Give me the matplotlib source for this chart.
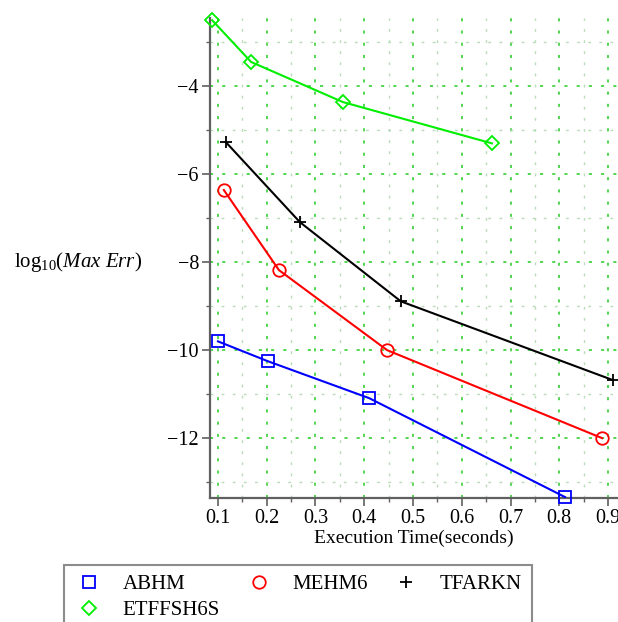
import matplotlib
matplotlib.use("Agg")
import matplotlib.pyplot as plt
from matplotlib.ticker import MultipleLocator

plt.rcParams['font.family'] = ['Liberation Serif', 'DejaVu Serif']
plt.rcParams['mathtext.fontset'] = 'custom'
plt.rcParams['mathtext.rm'] = 'Liberation Serif'
plt.rcParams['mathtext.it'] = 'Liberation Serif:italic'

# Data
abhm_x = [0.100, 0.202, 0.410, 0.812]
abhm_y = [-9.80, -10.25, -11.09, -13.34]
mehm6_x = [0.112, 0.225, 0.447, 0.888]
mehm6_y = [-6.36, -8.18, -10.00, -12.00]
tfarkn_x = [0.116, 0.268, 0.475, 0.910]
tfarkn_y = [-5.27, -7.09, -8.89, -10.68]
etf_x = [0.088, 0.168, 0.356, 0.662]
etf_y = [-2.50, -3.45, -4.36, -5.30]

series = [
    ("ABHM", abhm_x, abhm_y, "#0000ff", "s"),
    ("MEHM6", mehm6_x, mehm6_y, "#ff0000", "o"),
    ("TFARKN", tfarkn_x, tfarkn_y, "#000000", "+"),
    ("ETFFSH6S", etf_x, etf_y, "#00ee00", "D"),
]

W, H = 618, 622
fig = plt.figure(figsize=(W / 100, H / 100), dpi=100)
ax = fig.add_axes([210 / W, 1 - 498 / H, (618 - 210) / W, (498 - 18) / H])

handles = {}
for name, xs, ys, col, mk in series:
    ms = 9 if mk != "D" else 7
    ax.plot(xs, ys, color=col, lw=1.5, zorder=3)
    h, = ax.plot(xs, ys, ls="none", marker=mk, ms=ms, mfc="none", mec=col,
                 mew=1.3, zorder=4, label=name, clip_on=False)
    handles[name] = h

ax.set_xlim(0.0836, 0.9205)
ax.set_ylim(-13.36, -2.45)

ax.xaxis.set_minor_locator(MultipleLocator(0.05))
ax.yaxis.set_minor_locator(MultipleLocator(1))
ax.set_xticks([0.1, 0.2, 0.3, 0.4, 0.5, 0.6, 0.7, 0.8, 0.9])
ax.set_xticklabels(["0.1", "0.2", "0.3", "0.4", "0.5", "0.6", "0.7", "0.8", "0.9"])
ax.set_yticks([-12, -10, -8, -6, -4])
ax.set_yticklabels(["\u221212", "\u221210", "\u22128", "\u22126", "\u22124"])

ax.grid(which="major", color="#22cc22", ls=(0, (2, 6)), lw=1.1, zorder=1)
ax.grid(which="minor", color="#b8dcb8", ls=(0, (2, 6)), lw=1.0, zorder=1)

for s in ("top", "right"):
    ax.spines[s].set_visible(False)
for s in ("left", "bottom"):
    ax.spines[s].set_color("#606060")
    ax.spines[s].set_linewidth(1.6)

ax.tick_params(which="major", length=6, width=1.2, color="#606060",
               labelsize=14.5, pad=2)
ax.tick_params(which="minor", length=3, width=1.0, color="#606060")

ax.set_xlabel("Execution Time(seconds)", fontsize=14, labelpad=1)

fig.text(14 / W, 1 - 262 / H, r"$\mathrm{log}_{\mathit{10}}(\mathit{Max\ Err})$",
         fontsize=15, ha="left", va="center")

order = ["ABHM", "ETFFSH6S", "MEHM6", "TFARKN"]
leg = fig.legend([handles[n] for n in order], order,
                 loc="upper left", bbox_to_anchor=(64 / W, 1 - 565 / H),
                 bbox_transform=fig.transFigure, ncol=3, fontsize=15,
                 frameon=True, fancybox=False, borderaxespad=0,
                 handlelength=1.5, handletextpad=0.87, columnspacing=1.1,
                 labelspacing=0.3, borderpad=0.45)
leg.get_frame().set_edgecolor("#707070")
leg.get_frame().set_linewidth(1.5)

fig.savefig("out.png", dpi=100)
